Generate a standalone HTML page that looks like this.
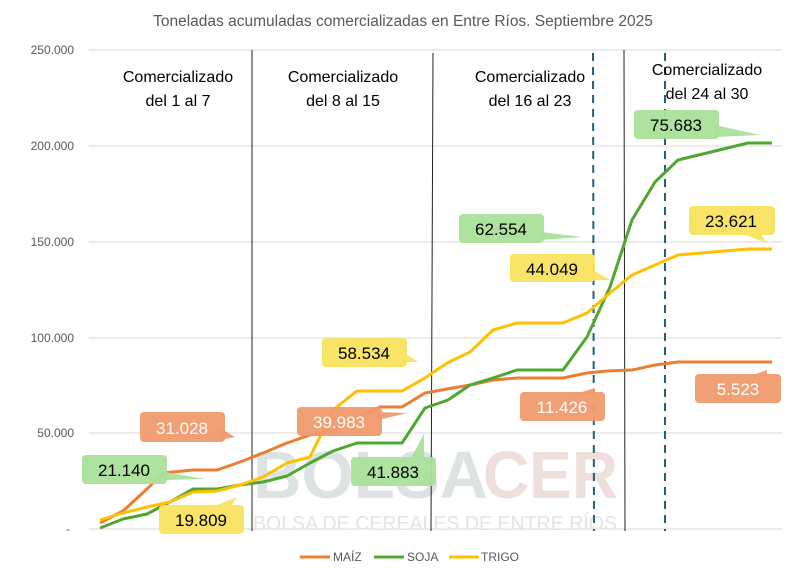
<!DOCTYPE html>
<html><head><meta charset="utf-8"><style>
body{margin:0;background:#fff}
svg{display:block;font-family:"Liberation Sans",sans-serif}
</style></head><body>
<svg width="806" height="581" viewBox="0 0 806 581" xmlns="http://www.w3.org/2000/svg">
<rect width="806" height="581" fill="#fff"/>
<text x="403" y="26" text-anchor="middle" font-size="15.5" fill="#595959">Toneladas acumuladas comercializadas en Entre Ríos. Septiembre 2025</text>
<g stroke="#d9d9d9" stroke-width="1">
<line x1="89" x2="782" y1="50" y2="50"/><line x1="89" x2="782" y1="146" y2="146"/>
<line x1="89" x2="782" y1="242" y2="242"/><line x1="89" x2="782" y1="338" y2="338"/>
<line x1="89" x2="782" y1="433" y2="433"/><line x1="89" x2="782" y1="529" y2="529"/>
</g>
<g font-size="12" fill="#595959" text-anchor="end">
<text x="74" y="54">250.000</text><text x="74" y="150">200.000</text><text x="74" y="246">150.000</text>
<text x="74" y="342">100.000</text><text x="74" y="437">50.000</text><text x="70" y="533">-</text>
</g>
<!-- watermark -->
<text x="253" y="498" font-size="67" font-weight="bold" fill="#dde3e3" textLength="235" lengthAdjust="spacingAndGlyphs">BOLSA</text>
<text x="483" y="498" font-size="67" font-weight="bold" fill="#efdfdb" textLength="135" lengthAdjust="spacingAndGlyphs">CER</text>
<text x="253" y="530" font-size="20" fill="#e0e5e5" textLength="364" lengthAdjust="spacingAndGlyphs">BOLSA DE CEREALES DE ENTRE RÍOS</text>
<!-- vertical lines -->
<g stroke="#222" stroke-width="1">
<line x1="252" x2="252" y1="50" y2="531"/><line x1="433" x2="431" y1="53" y2="531"/><line x1="624" x2="625" y1="50" y2="531"/>
</g>
<g stroke="#1f5f80" stroke-width="2" stroke-dasharray="8,6">
<line x1="593" x2="594" y1="53" y2="531"/><line x1="665" x2="665" y1="53" y2="531"/>
</g>
<g font-size="16" fill="#000" text-anchor="middle">
<text x="178" y="82">Comercializado</text><text x="178" y="106">del 1 al 7</text>
<text x="343" y="82">Comercializado</text><text x="343" y="106">del 8 al 15</text>
<text x="530" y="82">Comercializado</text><text x="530" y="106">del 16 al 23</text>
<text x="707" y="75">Comercializado</text><text x="707" y="99">del 24 al 30</text>
</g>
<!-- series -->
<g fill="none" stroke-width="3" stroke-linejoin="round">
<polyline stroke="#ed7d31" points="100,523 123,511 148,488 163,473 193,470 217,470 240,462 263,453 287,443 310,435 333,430 357,418 380,407 402,407 425,393 447,389 470,385 493,380 517,378 563,378 587,373 607,371 632,370 655,365 678,362 772,362"/>
<polyline stroke="#4ea72e" points="100,528 123,519 147,514 170,502 193,489 217,489 240,485 263,482 287,476 310,463 333,451 357,443 402,443 425,408 448,400 470,385 493,378 517,370 563,370 587,337 610,287 632,220 655,182 678,160 748,143 772,143"/>
<polyline stroke="#ffc000" points="100,520 123,513 147,507 170,502 193,492 217,491 240,485 263,477 287,463 310,457 333,410 357,391 402,391 425,378 447,363 470,352 493,330 517,323 563,323 587,313 610,293 632,275 655,265 678,255 748,249 772,249"/>
</g>
<!-- callouts -->
<g font-size="17" text-anchor="middle">
<g fill="#f09a6e" fill-opacity="0.95">
<rect x="140" y="412" width="85" height="30" rx="4"/><polygon points="220,428 235,437 220,440"/>
<rect x="297" y="407" width="85" height="29" rx="4"/><polygon points="378,412 407,413 378,420"/>
<rect x="520" y="392" width="85" height="29" rx="4"/><polygon points="575,394 595,388 595,394"/>
<rect x="695" y="374" width="86" height="29" rx="4"/><polygon points="750,376 767,370 767,376"/>
</g>
<g fill="#a9e09a" fill-opacity="0.95">
<rect x="82" y="455" width="85" height="29" rx="4"/><polygon points="165,472 205,479 165,480"/>
<rect x="351" y="457" width="85" height="29" rx="4"/><polygon points="410,460 424,434 424,460"/>
<rect x="459" y="214" width="85" height="29" rx="4"/><polygon points="540,232 583,237 540,240"/>
<rect x="634" y="110" width="85" height="29" rx="4"/><polygon points="715,125 760,135 715,137"/>
</g>
<g fill="#f9e35f" fill-opacity="0.95">
<rect x="159" y="505" width="85" height="29" rx="4"/><polygon points="210,508 237,497 230,508"/>
<rect x="322" y="338" width="85" height="29" rx="4"/><polygon points="403,352 418,362 403,362"/>
<rect x="510" y="254" width="85" height="28" rx="4"/><polygon points="593,270 610,280 593,280"/>
<rect x="689" y="206" width="86" height="29" rx="4"/><polygon points="740,233 767,243 760,233"/>
</g>
<g fill="#fff">
<text x="182" y="434">31.028</text><text x="339" y="428">39.983</text><text x="562" y="413">11.426</text><text x="738" y="395">5.523</text>
</g>
<g fill="#000">
<text x="124" y="476">21.140</text><text x="393" y="478">41.883</text><text x="501" y="235">62.554</text><text x="676" y="131">75.683</text>
<text x="201" y="526">19.809</text><text x="364" y="359">58.534</text><text x="552" y="275">44.049</text><text x="731" y="227">23.621</text>
</g>
</g>
<!-- legend -->
<g font-size="12" fill="#595959">
<line x1="300" x2="330" y1="557" y2="557" stroke="#ed7d31" stroke-width="3"/><text x="333" y="561">MAÍZ</text>
<line x1="374" x2="404" y1="557" y2="557" stroke="#4ea72e" stroke-width="3"/><text x="407" y="561">SOJA</text>
<line x1="449" x2="479" y1="557" y2="557" stroke="#ffc000" stroke-width="3"/><text x="481" y="561">TRIGO</text>
</g>
</svg>
</body></html>
